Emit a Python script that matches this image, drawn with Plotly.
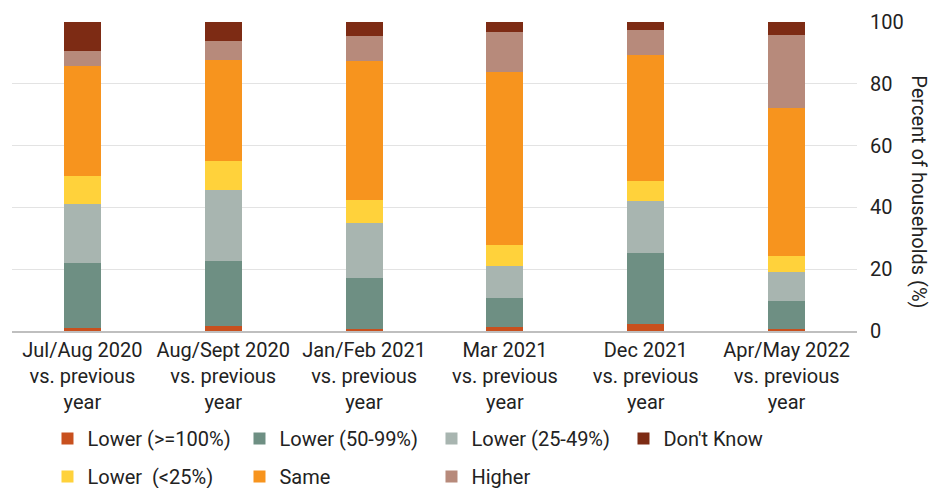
import plotly.graph_objects as go

# Survey waves (x categories)
periods = [
    "Jul/Aug 2020<br>vs. previous<br>year",
    "Aug/Sept 2020<br>vs. previous<br>year",
    "Jan/Feb 2021<br>vs. previous<br>year",
    "Mar 2021<br>vs. previous<br>year",
    "Dec 2021<br>vs. previous<br>year",
    "Apr/May 2022<br>vs. previous<br>year",
]

# Percent of households by change in income, stacked bottom to top
lower_100 = [1.0, 1.6, 0.5, 1.2, 2.4, 0.8]
lower_50_99 = [20.9, 21.0, 16.6, 9.4, 23.0, 9.0]
lower_25_49 = [19.1, 23.0, 17.8, 10.3, 16.8, 9.4]
lower_lt25 = [9.2, 9.4, 7.4, 6.9, 6.2, 5.2]
same = [35.7, 32.7, 45.1, 56.0, 40.8, 47.7]
higher = [4.7, 6.1, 8.1, 13.0, 8.1, 23.6]
dont_know = [9.4, 6.2, 4.5, 3.2, 2.7, 4.3]

y_ticks = [0, 20, 40, 60, 80, 100]

# (name, values, colour, legend row, position in row)
series = [
    ("Lower (>=100%)", lower_100, "#C8501E", "legend", 1),
    ("Lower (50-99%)", lower_50_99, "#6E8F83", "legend", 2),
    ("Lower (25-49%)", lower_25_49, "#A8B5B0", "legend", 3),
    ("Lower  (<25%)", lower_lt25, "#FFD23B", "legend2", 1),
    ("Same", same, "#F7941E", "legend2", 2),
    ("Higher", higher, "#B78A7B", "legend2", 3),
    ("Don't Know", dont_know, "#7D2B14", "legend", 4),
]

fig = go.Figure()
for name, vals, color, leg, rank in series:
    fig.add_trace(go.Bar(
        x=periods, y=vals, name=name,
        marker=dict(color=color, line=dict(width=0)),
        legend=leg, legendrank=rank,
    ))

font_family = "Roboto, Arial, sans-serif"
text_color = "#222222"

legend_common = dict(
    orientation="h",
    x=0.042, xanchor="left",
    yanchor="top",
    entrywidth=147,
    traceorder="normal",
    font=dict(size=20, color=text_color),
    itemwidth=30,
    bgcolor="rgba(0,0,0,0)",
)

fig.update_layout(
    barmode="stack",
    bargap=0.737,
    width=933, height=488,
    margin=dict(l=12, r=76, t=22, b=157, autoexpand=False),
    plot_bgcolor="white", paper_bgcolor="white",
    font=dict(family=font_family, size=20, color=text_color),
    showlegend=True,
    legend=dict(legend_common, y=-0.285),
    legend2=dict(legend_common, y=-0.408),
    xaxis=dict(
        showline=True, linecolor="#BFBFBF", linewidth=2,
        ticks="", tickfont=dict(size=20, color=text_color),
        showgrid=False, automargin=False,
    ),
    yaxis=dict(
        side="right", range=[0, 100], tickvals=y_ticks,
        showgrid=True, gridcolor="#E3E3E3", gridwidth=1,
        zeroline=False, showline=False, ticks="",
        ticklabelstandoff=12, automargin=False,
        tickfont=dict(size=20, color=text_color),
    ),
    annotations=[dict(
        text="Percent of households (%)",
        xref="paper", yref="paper", x=1.073, y=0.45,
        xanchor="center", yanchor="middle",
        textangle=90, showarrow=False,
        font=dict(size=20, color=text_color),
    )],
)

fig.write_html("out.html")
